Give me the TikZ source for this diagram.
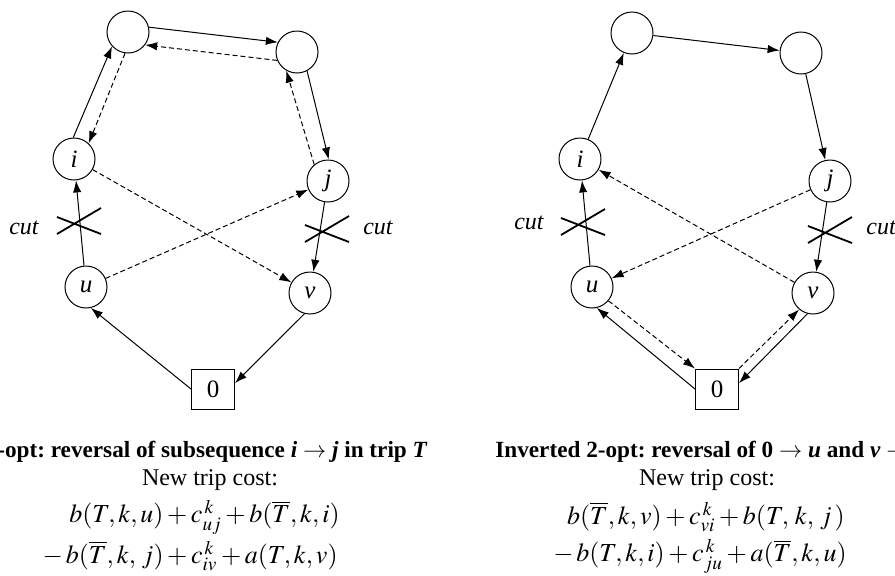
\documentclass[tikz,border=0pt,12pt]{standalone}
\usepackage{mathptmx}
\usepackage{fontspec}
\setmainfont{Liberation Serif}
\usetikzlibrary{arrows.meta}
\frenchspacing
\tikzset{
  stopnode/.style={circle, draw, line width=0.5pt, minimum size=21pt, inner sep=0pt, font=\fontsize{12.5}{14}\selectfont\itshape},
  depot/.style={rectangle, draw, line width=0.5pt, minimum width=21.5pt, minimum height=20pt, inner sep=0pt, font=\fontsize{12.5}{14}\selectfont},
  tripedge/.style={-{Latex[length=6pt,width=4.2pt]}, line width=0.5pt},
  swapedge/.style={tripedge, dash pattern=on 2.5pt off 1.5pt},
  cutmark/.style={line width=0.9pt},
  caption/.style={inner sep=0pt},
  costline/.style={inner sep=0pt, anchor=east, font=\fontsize{13}{15}\selectfont},
}

\begin{document}
\begin{tikzpicture}[x=0.5pt, y=-0.5pt]
        \clip (0,0) rectangle (895,575);
        % 2-opt
        \node[stopnode] (l1) at (128,32) {};
        \node[stopnode] (l2) at (297,52) {};
        \node[stopnode] (li) at (74,159) {i};
        \node[stopnode] (lj) at (328,181) {j};
        \node[stopnode] (lu) at (86,287) {u};
        \node[stopnode] (lv) at (310,293) {v};
        \node[depot] (l0) at (213,389) {0};
        \draw[tripedge] (lu) -- (li);
        \draw[tripedge] (li.92) -- (l1.222);
        \draw[swapedge] (l1.262) -- (li.47);
        \draw[tripedge] (l1.13) -- (l2.153);
        \draw[swapedge] (l2.203) -- (l1.-37);
        \draw[tripedge] (l2.-62) -- (lj.88);
        \draw[swapedge] (lj.130) -- (l2.240);
        \draw[tripedge] (lj) -- (lv);
        \draw[tripedge] (lv.-105) -- (l0.15);
        \draw[tripedge] (l0.west) -- (lu.-77);
        \draw[swapedge] (li) -- (lv);
        \draw[swapedge] (lu) -- (lj);
        \draw[cutmark, shift={(79,221)}] (-22,-4) -- (22,13) (-22,13) -- (22,-13);
        \draw[cutmark, shift={(327,229)}] (-22,-4) -- (22,13) (-22,13) -- (22,-13);
        \node[font=\itshape] (lcuta) at (24,228) {cut};
        \node[font=\itshape] (lcutb) at (378,228) {cut};
        \node[caption, anchor=east, font=\fontsize{11.6}{14}\selectfont\bfseries] (ltitle) at (428,452) {2-opt: reversal of subsequence \textit{i} $\rightarrow$ \textit{j} in trip \textit{T}};
        \node[caption] (lnew) at (210,480) {New trip cost:};
        \node[costline] (lcosta) at (340,517) {$b(T,k,u)+c^{\,k}_{uj}+b(\overline{T},k,i)$};
        \node[costline] (lcostb) at (338,556) {$-\,b(\overline{T},k,\,j)+c^{\,k}_{iv}+a(T,k,v)$};
        % Inverted 2-opt
        \begin{scope}[xshift=252pt]
            \node[stopnode] (r1) at (128,33) {};
            \node[stopnode] (r2) at (297,53) {};
            \node[stopnode] (ri) at (76,159) {i};
            \node[stopnode] (rj) at (326,181) {j};
            \node[stopnode] (ru) at (88,287) {u};
            \node[stopnode] (rv) at (309,293) {v};
            \node[depot] (r0) at (213,389) {0};
            \draw[tripedge] (ru) -- (ri);
            \draw[tripedge] (ri) -- (r1);
            \draw[tripedge] (r1) -- (r2);
            \draw[tripedge] (r2) -- (rj);
            \draw[tripedge] (rj) -- (rv);
            \draw[tripedge] (rv.-105) -- (r0.15);
            \draw[tripedge] (r0.west) -- (ru.-77);
            \draw[swapedge] (ru.-40) -- (r0.north west);
            \draw[swapedge] (r0.north east) -- (rv.-130);
            \draw[swapedge] (rv) -- (ri);
            \draw[swapedge] (rj) -- (ru);
            \draw[cutmark, shift={(79,222)}] (-22,-4) -- (22,13) (-22,13) -- (22,-13);
            \draw[cutmark, shift={(326,230)}] (-22,-4) -- (22,13) (-22,13) -- (22,-13);
            \node[font=\itshape] (rcuta) at (25,223) {cut};
            \node[font=\itshape] (rcutb) at (377,228) {cut};
            \node[caption, anchor=west, font=\fontsize{11.6}{14}\selectfont\bfseries] (rtitle) at (-9,452) {Inverted 2-opt: reversal of 0 $\rightarrow$ \textit{u} and \textit{v} $\rightarrow$ 0};
            \node[caption] (rnew) at (203,480) {New trip cost:};
            \node[costline] (rcosta) at (341,517) {$b(\overline{T},k,v)+c^{\,k}_{vi}+b(T,\,k,\,j\,)$};
            \node[costline] (rcostb) at (343,556) {$-\,b(T,k,i)+c^{\,k}_{ju}+a(\overline{T},k,u)$};
        \end{scope}
    \end{tikzpicture}
\end{document}
